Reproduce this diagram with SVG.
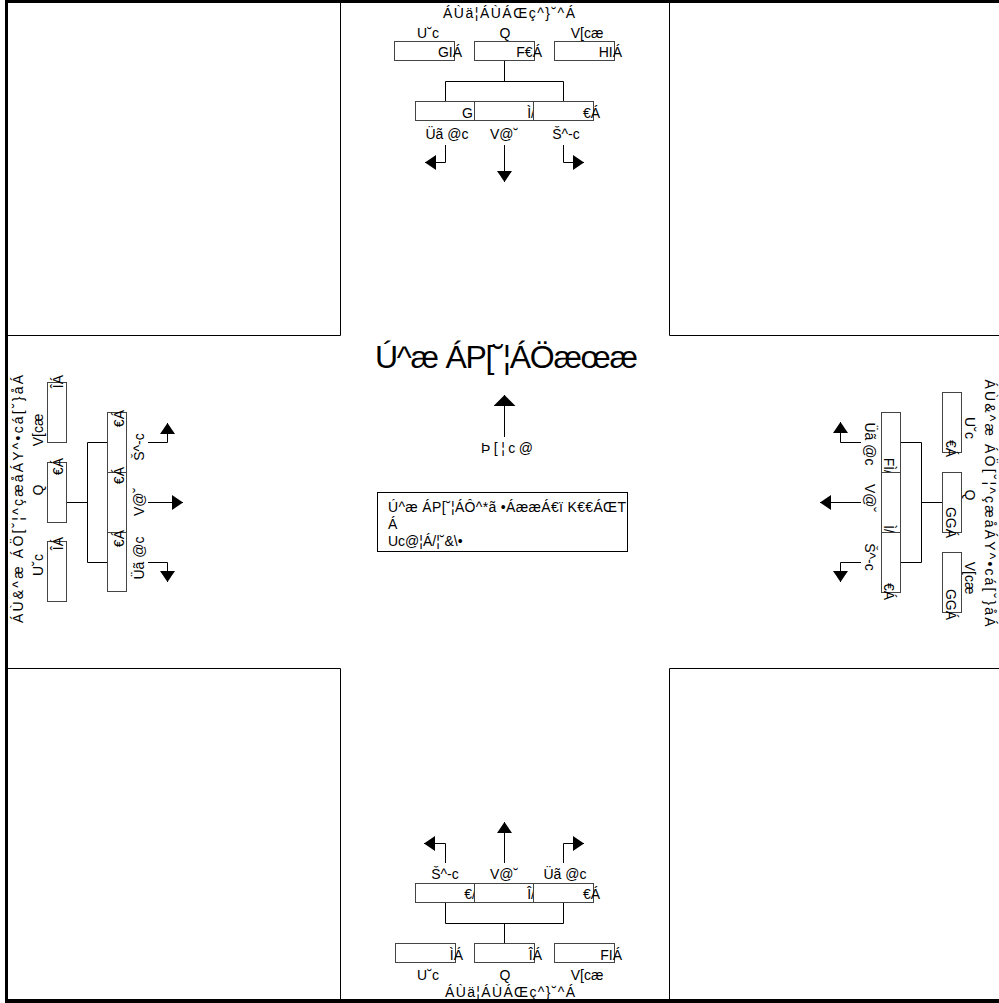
<svg xmlns="http://www.w3.org/2000/svg" width="999" height="1003" viewBox="0 0 999 1003">
<style>
.t{font-family:"Liberation Sans",Arial,sans-serif;font-size:14px;fill:#000}
.big{font-size:32px}
.box{fill:#fff;stroke:#444;stroke-width:1}
.ln{fill:none;stroke:#000;stroke-width:1}
.ar{fill:none;stroke:#000;stroke-width:1;marker-end:url(#ah)}
.arb{fill:none;stroke:#000;stroke-width:1;marker-end:url(#ahb)}
.e{text-anchor:end}
.m{text-anchor:middle}
</style>
<defs>
<marker id="ah" markerUnits="userSpaceOnUse" markerWidth="11" markerHeight="15" viewBox="0 0 11 15" refX="11" refY="7.5" orient="auto"><path d="M0,0 L11,7.5 L0,15 z" fill="#000"/></marker>
<marker id="ahb" markerUnits="userSpaceOnUse" markerWidth="11" markerHeight="22" viewBox="0 0 11 22" refX="11" refY="11" orient="auto"><path d="M0,0 L11,11 L0,22 z" fill="#000"/></marker>
</defs>
<rect width="999" height="1003" fill="#fff"/>
<g id="frame">
<rect x="5" y="0" width="994" height="3" fill="#000"/>
<rect x="5" y="0" width="3" height="1003" fill="#000"/>
<rect x="5" y="999" width="994" height="4" fill="#000"/>
</g>
<g id="blocks" class="ln">
<path d="M340.5,0 V335.5 H8"/>
<path d="M669.5,0 V335.5 H999"/>
<path d="M8,668.5 H340.5 V1000"/>
<path d="M999,668.5 H669.5 V1000"/>
</g>
<g id="connectors">
<path class="ln" d="M504.5,60.5 V81.5 M445.5,101 V81.5 H563.5 V101"/>
<path class="ln" d="M504.5,943 V923.5 M445.5,902 V923.5 H563.5 V902"/>
<path class="ln" d="M66.5,502.5 H87.5 M107,442.5 H87.5 V562.5 H107"/>
<path class="ln" d="M942,502.5 H921.5 M901,442.5 H921.5 V562.5 H901"/>
<path class="ar" d="M445.5,145 V162.5 H425"/>
<path class="ar" d="M504.5,145 V182"/>
<path class="ar" d="M563.5,145 V162.5 H584"/>
<path class="ar" d="M445.5,863 V843.5 H424"/>
<path class="ar" d="M504.5,863 V822"/>
<path class="ar" d="M563.5,863 V843.5 H584"/>
<path class="ar" d="M148,442.5 H167.5 V423"/>
<path class="ar" d="M148,502.5 H183"/>
<path class="ar" d="M148,562.5 H167.5 V582"/>
<path class="ar" d="M861,442.5 H840.5 V422"/>
<path class="ar" d="M861,502.5 H820"/>
<path class="ar" d="M861,562.5 H840.5 V582"/>
<path class="arb" d="M504.5,437 V395"/>
</g>
<g id="north">
<g id="n-title"><text class="t m" x="509" y="18" textLength="132" lengthAdjust="spacing">ÁÙä¦ÁÙÁŒç^}˘^Á</text></g>
<g id="n-lab"><text class="t m" x="428" y="38">U˘c</text><text class="t m" x="505" y="38">Q</text><text class="t m" x="587" y="38">V[cæ</text></g>
<g id="n-in1"><rect class="box" x="394.5" y="41.5" width="60" height="19"/><text class="t e" x="462" y="57">GIÁ</text></g>
<g id="n-in2"><rect class="box" x="474.5" y="41.5" width="60" height="19"/><text class="t e" x="542" y="57">F€Á</text></g>
<g id="n-in3"><rect class="box" x="554.5" y="41.5" width="60" height="19"/><text class="t e" x="622" y="57">HIÁ</text></g>
<g id="n-out1"><rect class="box" x="415.5" y="101.5" width="59" height="19"/><text class="t e" x="473" y="118">G</text></g>
<g id="n-out2"><rect class="box" x="474.5" y="101.5" width="59" height="19"/><text class="t e" x="535" y="118">Ì/</text></g>
<g id="n-out3"><rect class="box" x="533.5" y="101.5" width="60" height="19"/><text class="t e" x="600" y="118">€Á</text></g>
<g id="n-turn"><text class="t m" x="447" y="139">Üã @c</text><text class="t m" x="504" y="139">V@˘</text><text class="t m" x="566" y="139">Š^-c</text></g>
</g>
<g id="center">
<g id="c-title"><text class="t big m" x="506.5" y="368" textLength="263" lengthAdjust="spacing">Ú^æ ÁP[˘¦ÁÖæœæ</text></g>
<g id="c-north"><text class="t m" x="507" y="453" textLength="52" lengthAdjust="spacing">Þ[¦c@</text></g>
<g id="c-note"><rect x="377.5" y="492.5" width="250" height="59" fill="#fff" stroke="#000"/>
<text class="t" x="388" y="512" textLength="238" lengthAdjust="spacing">Ú^æ ÁP[˘¦ÁÔ^*ã •ÁææÁ€ï K€€ÁŒT</text>
<text class="t" x="388" y="529">Á</text>
<text class="t" x="388" y="546">Uc@¦Á/¦˘&amp;\•</text></g>
</g>
<g id="south">
<g id="s-turn"><text class="t m" x="445" y="879">Š^-c</text><text class="t m" x="504" y="879">V@˘</text><text class="t m" x="565" y="879">Üã @c</text></g>
<g id="s-out1"><rect class="box" x="415.5" y="883.5" width="59" height="19"/><text class="t e" x="476" y="899">€/</text></g>
<g id="s-out2"><rect class="box" x="474.5" y="883.5" width="59" height="19"/><text class="t e" x="535" y="899">Î/</text></g>
<g id="s-out3"><rect class="box" x="533.5" y="883.5" width="60" height="19"/><text class="t e" x="600" y="899">€Á</text></g>
<g id="s-in1"><rect class="box" x="395.5" y="943.5" width="60" height="19"/><text class="t e" x="463" y="960">ÌÁ</text></g>
<g id="s-in2"><rect class="box" x="474.5" y="943.5" width="60" height="19"/><text class="t e" x="542" y="960">ÎÁ</text></g>
<g id="s-in3"><rect class="box" x="554.5" y="943.5" width="60" height="19"/><text class="t e" x="622" y="960">FIÁ</text></g>
<g id="s-lab"><text class="t m" x="428" y="980">U˘c</text><text class="t m" x="505" y="980">Q</text><text class="t m" x="587" y="980">V[cæ</text></g>
<g id="s-title"><text class="t m" x="510" y="997" textLength="130" lengthAdjust="spacing">ÁÙä¦ÁÙÁŒç^}˘^Á</text></g>
</g>
<g id="west">
<g id="w-title"><text class="t m" x="23" y="499" transform="rotate(-90 23 499)" textLength="248" lengthAdjust="spacing">ÁÙ&amp;^æ ÁÖ[˘¦^çæåÁY^•cá[˘}åÁ</text></g>
<g id="w-lab"><text class="t m" x="43" y="430" transform="rotate(-90 43 430)">V[cæ</text><text class="t m" x="43" y="490" transform="rotate(-90 43 490)">Q</text><text class="t m" x="43" y="565" transform="rotate(-90 43 565)">U˘c</text></g>
<g id="w-in1"><rect class="box" x="47.5" y="382.5" width="19" height="60"/><text class="t e" x="63" y="375" transform="rotate(-90 63 375)">ÎÁ</text></g>
<g id="w-in2"><rect class="box" x="47.5" y="462.5" width="19" height="60"/><text class="t e" x="63" y="458" transform="rotate(-90 63 458)">€Á</text></g>
<g id="w-in3"><rect class="box" x="47.5" y="541.5" width="19" height="60"/><text class="t e" x="63" y="537" transform="rotate(-90 63 537)">ÎÁ</text></g>
<g id="w-out1"><rect class="box" x="107.5" y="412.5" width="19" height="60"/><text class="t e" x="124" y="410" transform="rotate(-90 124 410)">€Á</text></g>
<g id="w-out2"><rect class="box" x="107.5" y="472.5" width="19" height="60"/><text class="t e" x="124" y="467" transform="rotate(-90 124 467)">€Á</text></g>
<g id="w-out3"><rect class="box" x="107.5" y="532.5" width="19" height="59"/><text class="t e" x="124" y="530" transform="rotate(-90 124 530)">€Á</text></g>
<g id="w-turn"><text class="t m" x="144" y="447" transform="rotate(-90 144 447)">Š^-c</text><text class="t m" x="144" y="502" transform="rotate(-90 144 502)">V@˘</text><text class="t m" x="144" y="558" transform="rotate(-90 144 558)">Üã @c</text></g>
</g>
<g id="east">
<g id="e-title"><text class="t m" x="985" y="503" transform="rotate(90 985 503)" textLength="247" lengthAdjust="spacing">ÁÙ&amp;^æ ÁÖ[˘¦^çæåÁY^•cá[˘}åÁ</text></g>
<g id="e-lab"><text class="t m" x="965" y="428" transform="rotate(90 965 428)">U˘c</text><text class="t m" x="965" y="495" transform="rotate(90 965 495)">Q</text><text class="t m" x="965" y="578" transform="rotate(90 965 578)">V[cæ</text></g>
<g id="e-in1"><rect class="box" x="942.5" y="392.5" width="19" height="60"/><text class="t e" x="946" y="457" transform="rotate(90 946 457)">€Á</text></g>
<g id="e-in2"><rect class="box" x="942.5" y="472.5" width="19" height="60"/><text class="t e" x="946" y="538" transform="rotate(90 946 538)">GGÁ</text></g>
<g id="e-in3"><rect class="box" x="942.5" y="552.5" width="19" height="60"/><text class="t e" x="946" y="620" transform="rotate(90 946 620)">GGÁ</text></g>
<g id="e-out1"><rect class="box" x="881.5" y="412.5" width="19" height="60"/><text class="t e" x="884" y="474" transform="rotate(90 884 474)">FÌ/</text></g>
<g id="e-out2"><rect class="box" x="881.5" y="472.5" width="19" height="60"/><text class="t e" x="884" y="533" transform="rotate(90 884 533)">Ì/</text></g>
<g id="e-out3"><rect class="box" x="881.5" y="532.5" width="19" height="60"/><text class="t e" x="884" y="600" transform="rotate(90 884 600)">€Á</text></g>
<g id="e-turn"><text class="t m" x="865" y="444" transform="rotate(90 865 444)">Üã @c</text><text class="t m" x="865" y="498" transform="rotate(90 865 498)">V@˘</text><text class="t m" x="865" y="557" transform="rotate(90 865 557)">Š^-c</text></g>
</g>
</svg>
